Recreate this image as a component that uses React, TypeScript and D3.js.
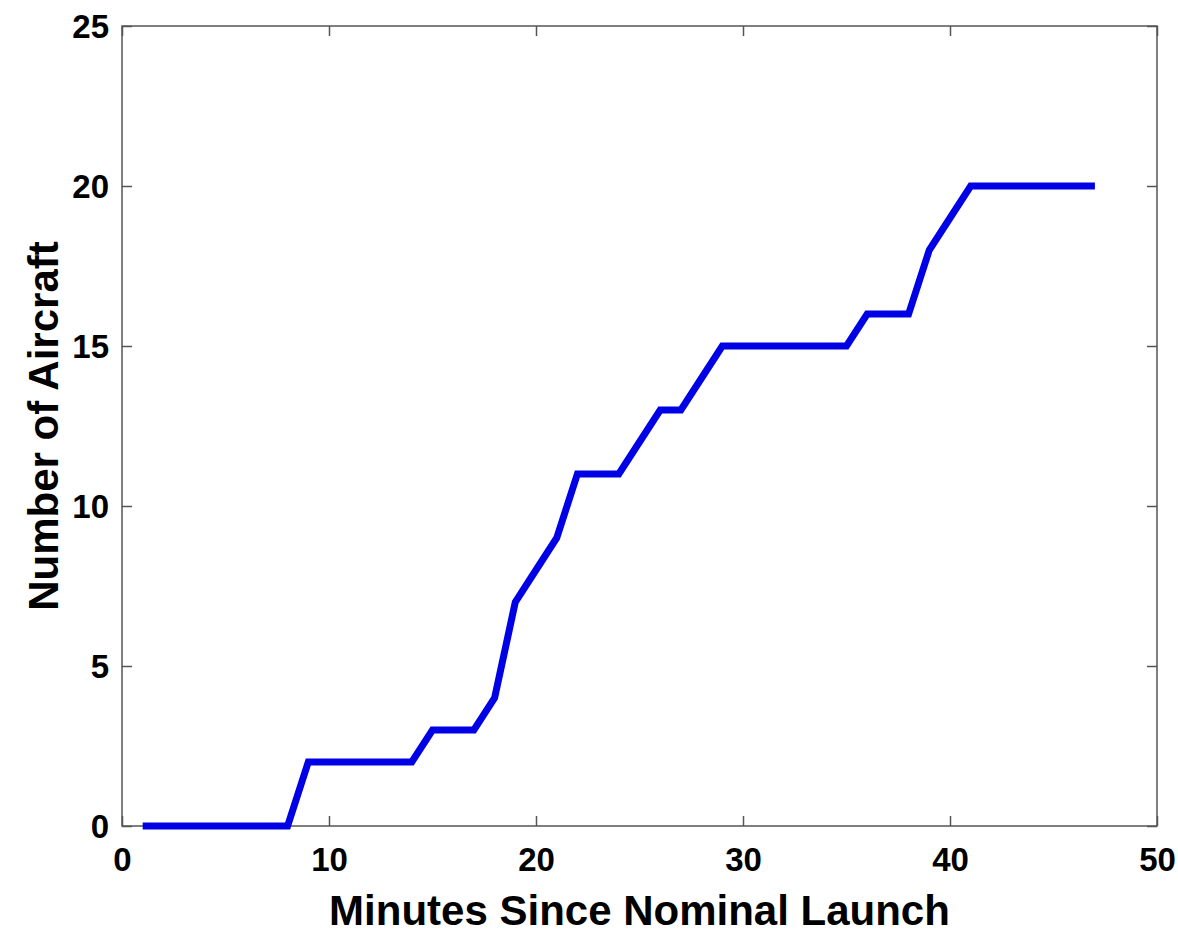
import React, { useEffect, useRef } from "react";
import * as d3 from "d3";

const minutes = [
  1, 2, 3, 4, 5, 6, 7, 8, 9, 10, 11, 12, 13, 14, 15, 16, 17, 18, 19, 20, 21, 22, 23, 24,
  25, 26, 27, 28, 29, 30, 31, 32, 33, 34, 35, 36, 37, 38, 39, 40, 41, 42, 43, 44, 45, 46, 47,
];
const aircraft = [
  0, 0, 0, 0, 0, 0, 0, 0, 2, 2, 2, 2, 2, 2, 3, 3, 3, 4, 7, 8, 9, 11, 11, 11,
  12, 13, 13, 14, 15, 15, 15, 15, 15, 15, 15, 16, 16, 16, 18, 19, 20, 20, 20, 20, 20, 20, 20,
];
const xTicks = [0, 10, 20, 30, 40, 50];
const yTicks = [0, 5, 10, 15, 20, 25];

const W = 1178;
const H = 933;
const margin = { top: 26, right: 21, bottom: 107, left: 122 };
const font = "'Liberation Sans', Arial, sans-serif";
const axisColor = "#555";

const App = () => {
  const ref = useRef<SVGSVGElement>(null);

  useEffect(() => {
    const svg = d3.select(ref.current);
    svg.selectAll("*").remove();

    const width = W - margin.left - margin.right;
    const height = H - margin.top - margin.bottom;

    const g = svg
      .append("g")
      .attr("transform", `translate(${margin.left},${margin.top})`);

    const x = d3.scaleLinear().domain([0, 50]).range([0, width]);
    const y = d3.scaleLinear().domain([0, 25]).range([height, 0]);

    // ticks point inward, on all four sides
    const tickLen = 10;
    const styleAxis = (sel) => {
      sel.select(".domain").remove();
      sel.selectAll("line").attr("stroke", axisColor).attr("stroke-width", 1.5);
    };

    g.append("g")
      .attr("transform", `translate(0,${height})`)
      .call(d3.axisBottom(x).tickValues(xTicks).tickSizeInner(-tickLen).tickPadding(14))
      .call(styleAxis)
      .selectAll("text")
      .attr("font-family", font)
      .attr("font-weight", "bold")
      .attr("font-size", 33)
      .attr("fill", "#000")
      .attr("dy", "0.95em");

    g.append("g")
      .call(d3.axisTop(x).tickValues(xTicks).tickSizeInner(-tickLen).tickFormat(() => ""))
      .call(styleAxis);

    g.append("g")
      .call(d3.axisLeft(y).tickValues(yTicks).tickSizeInner(-tickLen).tickPadding(13))
      .call(styleAxis)
      .selectAll("text")
      .attr("font-family", font)
      .attr("font-weight", "bold")
      .attr("font-size", 33)
      .attr("fill", "#000")
      .attr("dy", "0.35em");

    g.append("g")
      .attr("transform", `translate(${width},0)`)
      .call(d3.axisRight(y).tickValues(yTicks).tickSizeInner(-tickLen).tickFormat(() => ""))
      .call(styleAxis);

    // box
    g.append("rect")
      .attr("width", width)
      .attr("height", height)
      .attr("fill", "none")
      .attr("stroke", axisColor)
      .attr("stroke-width", 1.5);

    const data = minutes.map((m, i) => ({ m, n: aircraft[i] }));

    g.append("path")
      .datum(data)
      .attr("fill", "none")
      .attr("stroke", "#0000e6")
      .attr("stroke-width", 7)
      .attr("stroke-linejoin", "miter")
      .attr(
        "d",
        d3
          .line()
          .x((d) => x(d.m))
          .y((d) => y(d.n))
      );

    // axis titles
    svg
      .append("text")
      .attr("x", margin.left + width / 2)
      .attr("y", 925)
      .attr("text-anchor", "middle")
      .attr("font-family", font)
      .attr("font-weight", "bold")
      .attr("font-size", 42)
      .text("Minutes Since Nominal Launch");

    svg
      .append("text")
      .attr("transform", `translate(58,${margin.top + height / 2}) rotate(-90)`)
      .attr("text-anchor", "middle")
      .attr("font-family", font)
      .attr("font-weight", "bold")
      .attr("font-size", 42)
      .text("Number of Aircraft");
  }, []);

  return (
    <svg
      ref={ref}
      width={W}
      height={H}
      style={{ position: "absolute", left: 0, top: 0, background: "#fff" }}
    />
  );
};

export default App;
